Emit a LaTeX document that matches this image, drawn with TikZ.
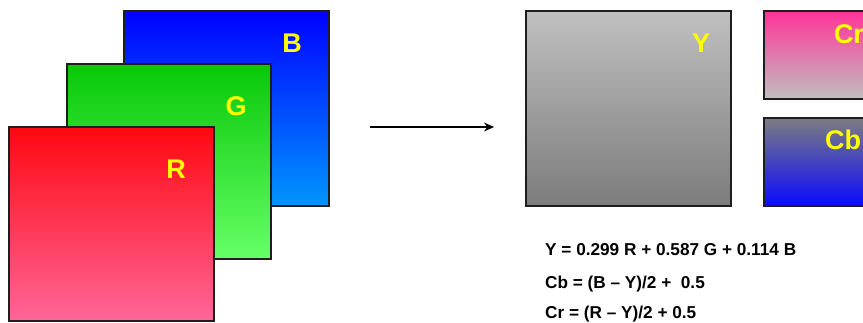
\documentclass[tikz,border=0pt]{standalone}
\usepackage{fontspec}
\setmainfont{Liberation Sans}
\usetikzlibrary{arrows.meta}
\definecolor{Bt}{RGB}{0,0,255}
\definecolor{Bb}{RGB}{0,150,255}
\definecolor{Gt}{RGB}{8,200,8}
\definecolor{Gb}{RGB}{102,255,102}
\definecolor{Rt}{RGB}{255,8,16}
\definecolor{Rb}{RGB}{255,102,153}
\definecolor{Yt}{RGB}{192,192,192}
\definecolor{Yb}{RGB}{124,124,124}
\definecolor{Crt}{RGB}{255,51,153}
\definecolor{Crb}{RGB}{192,192,192}
\definecolor{Cbt}{RGB}{124,124,128}
\definecolor{Cbb}{RGB}{10,10,255}
\definecolor{lblyellow}{RGB}{255,255,0}
\definecolor{edge}{RGB}{30,30,30}
\tikzset{
  plane/.style={draw=edge, line width=1.3pt, inner sep=0pt, outer sep=0pt, anchor=north west},
  lbl/.style={text=lblyellow, font=\bfseries\fontsize{27}{27}\selectfont, anchor=base, inner sep=0pt},
  formula/.style={font=\bfseries\fontsize{17.2}{17.2}\selectfont, anchor=base west, inner sep=0pt},
}
\begin{document}
\begin{tikzpicture}[x=1pt,y=-1pt]
\useasboundingbox (0,0) rectangle (863,322);
\clip (0,0) rectangle (863,322);
% RGB planes
\node[plane, minimum width=205pt, minimum height=195pt, top color=Bt, bottom color=Bb] (B) at (124,11) {};
\node[plane, minimum width=204pt, minimum height=195pt, top color=Gt, bottom color=Gb] (G) at (67,64) {};
\node[plane, minimum width=205pt, minimum height=194pt, top color=Rt, bottom color=Rb] (R) at (9,127) {};
\node[lbl] (Bl) at (292,52) {B};
\node[lbl] (Gl) at (236,115) {G};
\node[lbl] (Rl) at (176,178) {R};
% arrow
\coordinate (a1) at (370,127);
\coordinate (a2) at (494,127);
\draw[-{Stealth[length=10pt,width=9pt]}, line width=2.4pt] (a1) -- (a2);
% YCbCr planes
\node[plane, minimum width=205pt, minimum height=195pt, top color=Yt, bottom color=Yb] (Y) at (526,11) {};
\node[plane, minimum width=140pt, minimum height=88pt, top color=Crt, bottom color=Crb] (Cr) at (764,11) {};
\node[plane, minimum width=140pt, minimum height=88pt, top color=Cbt, bottom color=Cbb] (Cb) at (764,118) {};
\node[lbl] (Yl) at (701,52) {Y};
\node[lbl] (Crl) at (849,43) {Cr};
\node[lbl] (Cbl) at (843,149) {Cb};
% formulas
\node[formula] (f1) at (545,255) {Y = 0.299 R + 0.587 G + 0.114 B};
\node[formula] (f2) at (545,288) {Cb = (B – Y)/2 +\ \ 0.5};
\node[formula] (f3) at (545,318) {Cr = (R – Y)/2 + 0.5};
\end{tikzpicture}
\end{document}
